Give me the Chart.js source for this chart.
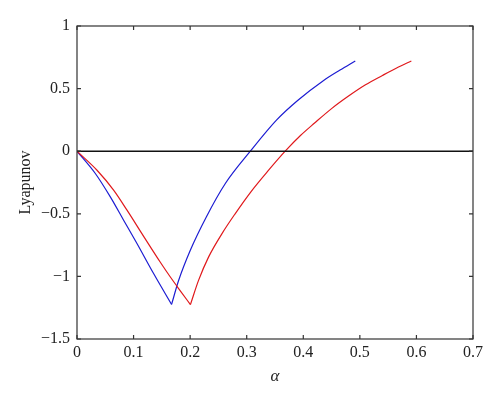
<!DOCTYPE html>
<html>
<head>
<meta charset="utf-8">
<script src="https://cdn.jsdelivr.net/npm/chart.js@4"></script>
<style>
  body { margin: 0; background: #fff; }
  #wrap { width: 500px; height: 403px; }
</style>
</head>
<body>
<div id="wrap"><canvas id="chart" width="500" height="403"></canvas></div>
<script>
// values
const blueAlpha = [0, 0.0324, 0.0589, 0.0824, 0.106, 0.1354, 0.1672, 0.1796, 0.2003, 0.2286, 0.2622, 0.3064, 0.353, 0.39, 0.436, 0.465, 0.4919];
const blueLyap  = [0, -0.178, -0.365, -0.551, -0.737, -0.977, -1.224, -1.033, -0.791, -0.525, -0.258, 0, 0.25, 0.405, 0.565, 0.648, 0.721];
const redAlpha  = [0, 0.0354, 0.0647, 0.0884, 0.1178, 0.147, 0.165, 0.1826, 0.2005, 0.215, 0.2327, 0.2563, 0.2798, 0.3064, 0.3387, 0.368, 0.395, 0.42, 0.45, 0.48, 0.51, 0.54, 0.565, 0.591];
const redLyap   = [0, -0.152, -0.311, -0.471, -0.68, -0.885, -1.005, -1.115, -1.225, -1.03, -0.844, -0.658, -0.498, -0.33, -0.152, 0, 0.125, 0.225, 0.34, 0.44, 0.53, 0.605, 0.665, 0.721];
const zeroAlpha = [0, 0.7];
const zeroLyap  = [0, 0];

const xTicks = [0, 0.1, 0.2, 0.3, 0.4, 0.5, 0.6, 0.7];
const xTickLabels = ['0', '0.1', '0.2', '0.3', '0.4', '0.5', '0.6', '0.7'];
const yTicks = [-1.5, -1, -0.5, 0, 0.5, 1];
const yTickLabels = ['\u22121.5', '\u22121', '\u22120.5', '0', '0.5', '1'];

const serif = '"Liberation Serif", "Times New Roman", serif';
const ink = '#222';

const pts = (xs, ys) => xs.map((x, i) => ({ x: x, y: ys[i] }));

// split a V-shaped curve at its minimum so the corner stays sharp
function branches(xs, ys, color) {
  const k = ys.indexOf(Math.min(...ys));
  const all = pts(xs, ys);
  const base = { showLine: true, borderColor: color, borderWidth: 1.2, pointRadius: 0, cubicInterpolationMode: 'monotone' };
  return [
    Object.assign({ data: all.slice(0, k + 1) }, base),
    Object.assign({ data: all.slice(k) }, base)
  ];
}

// frame round the plot plus inward ticks on all four sides
const boxPlugin = {
  id: 'box',
  afterDatasetsDraw(chart) {
    const { ctx, chartArea: a, scales } = chart;
    const len = 4;
    ctx.save();
    ctx.strokeStyle = '#333';
    ctx.lineWidth = 1.2;
    ctx.strokeRect(a.left, a.top, a.right - a.left, a.bottom - a.top);
    ctx.beginPath();
    scales.x.ticks.forEach(t => {
      const px = scales.x.getPixelForValue(t.value);
      ctx.moveTo(px, a.bottom); ctx.lineTo(px, a.bottom - len);
      ctx.moveTo(px, a.top); ctx.lineTo(px, a.top + len);
    });
    scales.y.ticks.forEach(t => {
      const py = scales.y.getPixelForValue(t.value);
      ctx.moveTo(a.left, py); ctx.lineTo(a.left + len, py);
      ctx.moveTo(a.right, py); ctx.lineTo(a.right - len, py);
    });
    ctx.stroke();
    ctx.restore();
  }
};

new Chart(document.getElementById('chart'), {
  type: 'scatter',
  data: {
    datasets: [
      { data: pts(zeroAlpha, zeroLyap), showLine: true, borderColor: '#111', borderWidth: 1.4, pointRadius: 0 },
      ...branches(redAlpha, redLyap, '#e0191c'),
      ...branches(blueAlpha, blueLyap, '#1c1cd2')
    ]
  },
  options: {
    responsive: false,
    animation: false,
    layout: { padding: { left: 0, right: 27, top: 26, bottom: 0 } },
    plugins: { legend: { display: false }, tooltip: { enabled: false } },
    scales: {
      x: {
        type: 'linear', min: 0, max: 0.7,
        afterBuildTicks: s => { s.ticks = xTicks.map(v => ({ value: v })); },
        afterFit: s => { s.height = 64; },
        grid: { display: false, drawTicks: false },
        border: { display: false },
        ticks: {
          padding: 4, color: ink, font: { family: serif, size: 16 },
          callback: (v, i) => xTickLabels[i]
        },
        title: {
          display: true, text: 'α', color: ink,
          font: { family: serif, size: 17, style: 'italic' },
          padding: { top: 0, bottom: 16 }
        }
      },
      y: {
        type: 'linear', min: -1.5, max: 1,
        afterBuildTicks: s => { s.ticks = yTicks.map(v => ({ value: v })); },
        afterFit: s => { s.width = 77; },
        grid: { display: false, drawTicks: false },
        border: { display: false },
        ticks: {
          padding: 7, color: ink, font: { family: serif, size: 16 },
          callback: (v, i) => yTickLabels[i]
        },
        title: {
          display: true, text: 'Lyapunov', color: ink,
          font: { family: serif, size: 16 },
          padding: { top: 16, bottom: 0 }
        }
      }
    }
  },
  plugins: [boxPlugin]
});
</script>
</body>
</html>
